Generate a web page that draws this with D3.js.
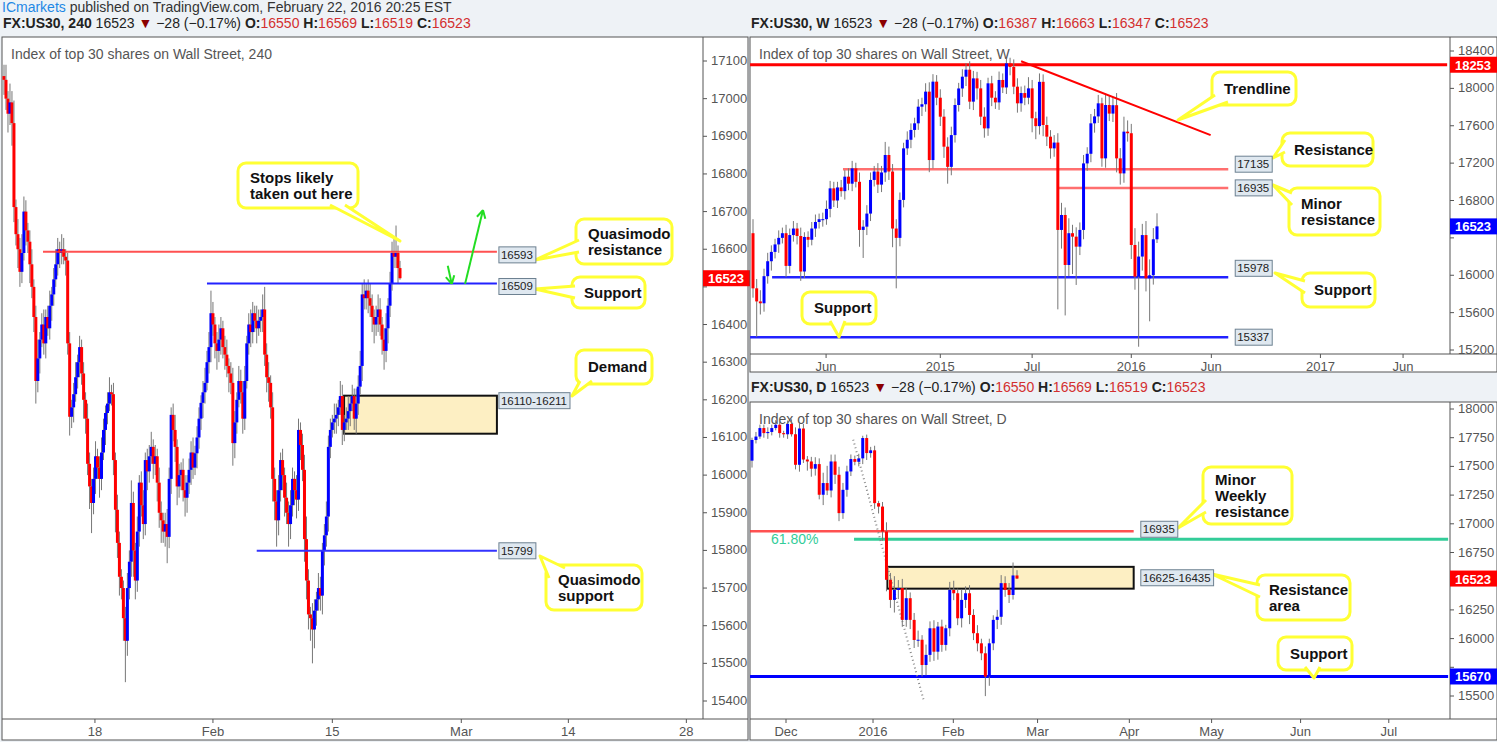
<!DOCTYPE html>
<html><head><meta charset="utf-8">
<script src="https://cdn.jsdelivr.net/npm/d3@7"></script>
<style>
body{margin:0;background:#eef2f6;}
text{font-family:"Liberation Sans Narrow","Arial Narrow",sans-serif;}
</style></head><body>
<svg id="c" width="1497" height="742"></svg>
<script>
// ---- 4h chart data ----
var h4Open0 = 17060;
var h4Close = [17050,17000,16960,16990,16935,16712,16640,16600,16540,16590,
16700,16650,16620,16560,16500,16420,16250,16310,16360,16400,
16350,16420,16390,16450,16480,16520,16560,16600,16590,16600,
16580,16570,16350,16155,16180,16215,16260,16300,16340,16270,
16200,16150,16030,15970,15926,15990,16050,16020,15990,16060,
16120,16165,16190,16220,16215,16040,15908,15820,15730,15700,
15620,15560,15700,15770,15926,15800,15720,15850,15980,15920,
15870,16040,16010,16050,16075,16030,16050,15980,15900,15880,
15850,15870,15836,15990,16160,16120,16075,15970,16000,16014,
15960,15940,15980,16014,16060,16020,16058,16100,16150,16192,
16220,16245,16300,16340,16430,16400,16350,16330,16360,16390,
16340,16320,16290,16270,16245,16085,16140,16200,16250,16220,
16150,16250,16350,16400,16380,16430,16410,16390,16410,16420,
16440,16320,16260,16245,16180,15990,15930,15880,15960,16040,
16000,15940,15900,15870,15920,15990,15960,15935,16120,16080,
16014,15830,15720,15630,15620,15590,15640,15670,15700,15680,
15800,15840,15890,16075,16120,16140,16150,16160,16180,16210,
16120,16140,16150,16170,16190,16210,16150,16190,16235,16290,
16480,16470,16490,16470,16450,16420,16400,16420,16440,16400,
16360,16330,16390,16450,16510,16590,16580,16590,16550,16523];
var h4Up = [30,40,20,50,30,60,20,40,30,50,40,30,20,30,40,20,30,50,20,30,
40,20,30,40,20,30,40,30,20,40,30,20,20,30,20,30,40,20,30,20,
30,20,40,30,20,30,40,20,30,40,30,20,30,40,20,30,20,40,30,20,
20,30,40,30,60,30,20,40,20,30,40,20,30,30,40,20,30,20,40,30,
20,30,40,30,20,30,40,20,30,20,30,40,20,30,30,40,20,30,30,20,
30,40,30,40,60,30,20,30,40,30,20,30,40,20,30,40,30,20,40,30,
30,40,20,30,40,30,20,40,30,20,40,60,30,40,20,40,30,30,40,20,
30,20,40,30,40,30,20,40,30,20,30,40,60,30,20,40,30,20,40,30,
20,30,40,30,30,20,40,30,20,40,30,20,30,40,20,30,20,40,30,40,
30,40,20,30,40,30,20,30,40,30,20,30,40,20,30,30,40,73,20,19];
var h4Dn = [40,30,50,30,60,40,30,50,40,30,20,40,30,50,30,40,60,30,40,20,
30,40,20,30,40,30,20,30,40,30,20,40,30,50,30,40,20,30,40,30,
50,40,30,60,80,30,40,30,50,30,20,40,30,20,30,40,60,40,50,30,
60,110,40,30,40,70,50,30,40,30,40,30,50,30,20,40,30,50,40,60,
30,40,70,30,40,30,40,50,30,40,30,50,40,30,40,30,20,40,30,30,
40,30,20,30,40,30,40,50,30,40,30,40,30,50,30,60,40,30,20,30,
40,30,20,30,40,30,30,40,20,30,40,30,40,50,30,60,50,70,40,30,
40,50,30,60,40,30,40,50,30,40,30,60,50,40,60,90,50,40,30,40,
50,40,30,40,30,20,30,40,30,20,40,30,20,30,40,20,30,40,30,20,
40,30,30,40,30,40,50,30,40,30,40,50,30,40,30,20,30,30,40,4];
var h4TickIdx = [45.7,105,165,229.8,283.6,342.9];
var h4TickLab = ["18","Feb","15","Mar","14","28"];
var h4Prices = d3.range(15400,17101,100);

// ---- weekly data ----
var wkOpen0 = 16450;
var wkClose = [15860,15720,15700,15990,16150,16250,16330,16400,16450,16100,
16430,16500,16420,16040,16410,16380,16500,16570,16600,16600,
16710,16930,16800,16940,16900,17055,16980,17144,17000,16485,
16520,16660,17020,17110,16970,17100,17287,17110,16500,16400,
16806,17358,17450,17555,17626,17804,17830,17965,17233,18072,
17900,17697,17376,17160,17500,17822,17999,18125,18200,17858,
18107,18000,17697,17572,18054,17900,17850,18090,18010,18268,
18230,18018,17840,17950,17900,18000,17680,17596,18070,17608,
17483,17358,17420,16485,16645,16110,16450,16413,16306,16485,
17197,17300,17626,17700,17840,17251,17822,17730,17820,17251,
17090,17537,17520,16324,15985,16200,16430,15967,16000,16385,16523];
var wkUp = [150,100,120,80,90,70,60,80,60,90,70,80,60,90,50,60,70,80,60,70,
90,80,70,60,80,70,90,80,60,100,70,90,80,60,90,70,140,90,80,100,
80,60,90,70,60,80,70,90,100,80,70,90,80,100,90,70,60,80,70,90,
80,70,90,100,60,80,70,90,70,50,60,80,90,70,80,120,90,70,90,80,
90,70,80,100,130,80,160,90,100,80,90,70,100,80,90,60,120,100,90,130,
110,160,120,100,180,160,120,150,170,120,140];
var wkDn = [100,380,120,90,80,100,70,90,60,120,80,70,90,100,70,80,60,90,70,80,
60,90,70,80,60,90,70,80,60,180,300,90,80,70,90,80,100,90,200,540,
90,80,70,90,80,70,100,80,130,90,80,100,120,180,90,80,70,90,100,80,
90,120,90,100,80,90,70,80,60,70,90,80,100,90,80,70,150,140,90,120,
100,110,90,850,200,540,120,400,410,90,100,80,90,100,70,90,100,80,90,150,
120,100,90,150,140,750,150,140,460,100,40];
var wkTickIdx = [19.9,51,76,103,124.8,154.5,177];
var wkTickLab = ["Jun","2015","Jul","2016","Jun","2017","Jun"];
var wkPrices = d3.range(15200,18401,400);
var wkTrend = [[73,18290],[124.6,17500]];

// ---- daily data ----
var dOpen0 = 17550;
var dClose = [17730,17760,17834,17790,17800,17834,17863,17790,17780,17870,
17780,17514,17830,17560,17543,17480,17520,17253,17355,17290,
17543,17427,17093,17296,17456,17564,17540,17570,17747,17616,
17640,17180,17150,16933,16512,16337,16424,16440,16163,16352,
16163,15988,15990,15770,15858,16090,15886,16105,15945,16090,
16424,16395,16177,16337,16395,16206,16047,15959,15872,15669,
15959,16163,16190,16483,16424,16380,16550,16523];
var dUp = [20,40,30,30,40,30,40,30,20,30,40,60,50,40,30,40,60,50,90,150,
60,60,70,60,50,40,30,40,20,30,30,40,20,40,80,60,120,70,80,90,
50,60,80,40,90,60,70,40,60,30,70,80,40,90,60,70,50,70,40,60,
40,40,60,70,60,60,113,46];
var dDn = [60,30,20,40,50,30,20,40,30,40,20,40,60,30,80,70,60,40,90,40,
60,80,70,50,60,40,30,40,50,60,40,50,60,80,100,70,110,80,60,60,
80,70,60,100,90,60,80,70,60,50,70,60,60,80,70,80,60,70,60,170,
80,60,80,70,60,70,40,4];
var dTickIdx = [8.6,30.6,50.9,72.2,95.4,116.2,138.7,161];
var dTickLab = ["Dec","2016","Feb","Mar","Apr","May","Jun","Jul"];
var dPrices = d3.range(15500,18001,250);
var dFib = [[25.6,17733],[43.5,15450]];

var svg = d3.select("#c");
var UP = "#0000ff", DN = "#ff0000";

function frame(x0,y0,x1,y1,axX,axY){
  svg.append("rect").attr("x",x0).attr("y",y0).attr("width",x1-x0).attr("height",y1-y0)
    .attr("fill","#fff").attr("stroke","#555").attr("stroke-width",1);
  svg.append("line").attr("x1",axX).attr("x2",axX).attr("y1",y0).attr("y2",axY).attr("stroke","#555");
  svg.append("line").attr("x1",x0).attr("x2",x1).attr("y1",axY).attr("y2",axY).attr("stroke","#555");
}

function candles(g,x,y,open0,closes,up,dn,bw){
  closes.forEach(function(c,i){
    var o = i==0 ? open0 : closes[i-1];
    var hi = Math.max(o,c)+up[i], lo = Math.min(o,c)-dn[i];
    g.append("line").attr("x1",x(i)).attr("x2",x(i)).attr("y1",y(hi)).attr("y2",y(lo))
      .attr("stroke","#777").attr("stroke-width",1);
    var col = c>=o ? UP : DN;
    g.append("rect").attr("x",x(i)-bw/2).attr("width",bw)
      .attr("y",y(Math.max(o,c))).attr("height",Math.max(1,Math.abs(y(o)-y(c))))
      .attr("fill",col);
  });
}

// tick labels that sit under an axis tag are skipped, as TradingView does
function priceAxis(y,prices,axX,tags){
  prices.forEach(function(p){
    svg.append("line").attr("x1",axX).attr("x2",axX+4).attr("y1",y(p)).attr("y2",y(p)).attr("stroke","#555");
    var hidden = tags.some(function(t){ return Math.abs(y(t)-y(p))<13; });
    if(!hidden) svg.append("text").attr("x",axX+8).attr("y",y(p)+4).attr("font-size",13).attr("fill","#555").text(p);
  });
}
function timeAxis(x,idx,labs,axY){
  idx.forEach(function(t,i){
    svg.append("line").attr("x1",x(t)).attr("x2",x(t)).attr("y1",axY).attr("y2",axY+4).attr("stroke","#555");
    svg.append("text").attr("x",x(t)).attr("y",axY+17).attr("text-anchor","middle")
      .attr("font-size",13).attr("fill","#555").text(labs[i]);
  });
}
function hline(x,y,i0,i1,p,col,w,op){
  svg.append("line").attr("x1",x(i0)).attr("x2",x(i1)).attr("y1",y(p)).attr("y2",y(p))
    .attr("stroke",col).attr("stroke-width",w).attr("opacity",op||1);
}
function tag(px,py,txt){
  var t = svg.append("text").attr("x",px+2).attr("y",py+4).attr("font-size",11.5).attr("fill","#222").text(txt);
  var w = t.node().getComputedTextLength()+5;
  svg.insert("rect","text:last-child").attr("x",px).attr("y",py-8).attr("width",w).attr("height",16)
    .attr("fill","#dfe8f0").attr("stroke","#6d8191");
}
function axisTag(axX,py,txt,col){
  svg.append("rect").attr("x",axX).attr("y",py-8).attr("width",47).attr("height",16).attr("fill",col);
  svg.append("text").attr("x",axX+23).attr("y",py+5).attr("text-anchor","middle")
    .attr("font-size",13).attr("font-weight","bold").attr("fill","#fff").text(txt);
}
function callout(x0,y0,x1,y1,bx1,bx2,tx,ty,lines){
  svg.append("rect").attr("x",x0).attr("y",y0).attr("width",x1-x0).attr("height",y1-y0)
    .attr("rx",8).attr("fill","#fff").attr("stroke","#ffff33").attr("stroke-width",3);
  svg.append("path").attr("d","M"+bx1[0]+","+bx1[1]+"L"+tx+","+ty+"L"+bx2[0]+","+bx2[1])
    .attr("fill","#fff").attr("stroke","#ffff33").attr("stroke-width",3).attr("stroke-linejoin","round");
  var g = svg.append("text").attr("font-size",15).attr("font-weight","bold").attr("fill","#111");
  lines.forEach(function(l,i){
    g.append("tspan").attr("x",x0+12).attr("y",y0+ (y1-y0)/2 - (lines.length-1)*8 + i*16 + 5).text(l);
  });
}
function header(x,y,title,vals){
  var t = svg.append("text").attr("x",x).attr("y",y).attr("font-size",14).attr("fill","#222");
  t.append("tspan").attr("font-weight","bold").text(title+" ");
  t.append("tspan").text("16523 ");
  t.append("tspan").attr("fill","#8b0000").text("▼");
  t.append("tspan").text(" −28 (−0.17%) ");
  ["O","H","L","C"].forEach(function(k,i){
    t.append("tspan").attr("font-weight","bold").attr("fill","#222").text(k+":");
    t.append("tspan").attr("fill","#d32f2f").text(vals[i]+" ");
  });
}

// top line
var pubLine = svg.append("text").attr("x",2).attr("y",12).attr("font-size",14);
pubLine.append("tspan").attr("fill","#1e88e5").text("ICmarkets");
pubLine.append("tspan").attr("fill","#333").text(" published on TradingView.com, February 22, 2016 20:25 EST");

// ===== left 4h panel =====
frame(2,37,748,740,703,719);
header(3,28,"FX:US30, 240",[16550,16569,16519,16523]);
var xh = d3.scaleLinear().domain([0,199]).range([4,400]);
var yh = d3.scaleLinear().domain([17100,15400]).range([61,701]);
svg.append("text").attr("x",11).attr("y",59).attr("font-size",14).attr("fill","#555")
  .text("Index of top 30 shares on Wall Street, 240");
svg.append("rect").attr("x",xh(170.9)).attr("y",yh(16211)).attr("width",xh(247.7)-xh(170.9))
  .attr("height",yh(16110)-yh(16211)).attr("fill","#fdefc3").attr("stroke","#111").attr("stroke-width",2);
candles(svg.append("g"),xh,yh,h4Open0,h4Close,h4Up,h4Dn,3);
hline(xh,yh,19.6,247.7,16593,"#ff3333",2,0.85);
hline(xh,yh,102,247.7,16509,"#2222ff",2);
hline(xh,yh,127,247.7,15799,"#3333ff",2);
priceAxis(yh,h4Prices,703,[16523]);
timeAxis(xh,h4TickIdx,h4TickLab,719);
axisTag(703,yh(16523),"16523","#ff0000");
// green arrows
function arrow(a,b){
  svg.append("line").attr("x1",xh(a[0])).attr("y1",yh(a[1])).attr("x2",xh(b[0])).attr("y2",yh(b[1]))
    .attr("stroke","#22dd22").attr("stroke-width",2);
  var ang = Math.atan2(yh(b[1])-yh(a[1]),xh(b[0])-xh(a[0]));
  [-0.5,0.5].forEach(function(d){
    svg.append("line").attr("x1",xh(b[0])).attr("y1",yh(b[1]))
      .attr("x2",xh(b[0])-9*Math.cos(ang+d)).attr("y2",yh(b[1])-9*Math.sin(ang+d))
      .attr("stroke","#22dd22").attr("stroke-width",2);
  });
}
arrow([231.7,16508],[240.7,16704]);
arrow([223,16556],[225,16508]);
callout(238,163,358,208,[330,205],[345,205],400,241,["Stops likely","taken out here"]);
callout(576,219,672,264,[579,240],[579,252],535,260,["Quasimodo","resistance"]);
callout(572,277,645,308,[575,286],[575,298],535,289,["Support"]);
callout(576,350,652,384,[580,381],[592,381],572,396,["Demand"]);
callout(546,565,642,610,[549,578],[565,568],540,556,["Quasimodo","support"]);
tag(xh(248.7),yh(16593)+3,"16593");
tag(xh(248.7),yh(16509)+3,"16509");
tag(xh(248.7),yh(16211)+5,"16110-16211");
tag(xh(248.7),yh(15799),"15799");

// ===== weekly panel =====
frame(750,37,1497,372,1450,354);
header(751,28,"FX:US30, W",[16387,16663,16347,16523]);
var xw = d3.scaleLinear().domain([0,110]).range([753,1157]);
var yw = d3.scaleLinear().domain([18400,15200]).range([51,350]);
svg.append("text").attr("x",759).attr("y",59).attr("font-size",14).attr("fill","#555")
  .text("Index of top 30 shares on Wall Street, W");
hline(xw,yw,-0.8,189,18253,"#ff0000",3);
hline(xw,yw,24.5,129.4,17135,"#ff3333",2.5,0.7);
hline(xw,yw,83.2,129.4,16935,"#ff3333",2.5,0.7);
hline(xw,yw,5.2,129.4,15978,"#2222ff",2.5);
hline(xw,yw,-0.8,129.4,15337,"#2222ff",2.5);
candles(svg.append("g"),xw,yw,wkOpen0,wkClose,wkUp,wkDn,3);
svg.append("line").attr("x1",xw(wkTrend[0][0])).attr("y1",yw(wkTrend[0][1]))
  .attr("x2",xw(wkTrend[1][0])).attr("y2",yw(wkTrend[1][1])).attr("stroke","#ff0000").attr("stroke-width",2);
priceAxis(yw,wkPrices,1450,[18253,16523]);
timeAxis(xw,wkTickIdx,wkTickLab,354);
axisTag(1450,yw(18253),"18253","#ff0000");
axisTag(1450,yw(16523),"16523","#0000ff");
callout(1212,72,1296,105,[1215,95],[1228,102],1178,120,["Trendline"]);
callout(1282,133,1373,166,[1285,140],[1285,152],1273,158,["Resistance"]);
callout(1289,188,1380,235,[1292,193],[1292,205],1273,185,["Minor","resistance"]);
callout(1302,273,1375,307,[1305,281],[1305,293],1275,273,["Support"]);
callout(802,292,876,324,[830,321],[845,321],839,337,["Support"]);
tag(xw(131.3),yw(17135)-5,"17135");
tag(xw(131.3),yw(16935),"16935");
tag(xw(131.3),yw(15978)-9,"15978");
tag(xw(131.3),yw(15337),"15337");

// ===== daily panel =====
frame(750,402,1497,740,1450,719);
header(751,392,"FX:US30, D",[16550,16569,16519,16523]);
var xd = d3.scaleLinear().domain([0,67]).range([752,1017]);
var yd = d3.scaleLinear().domain([18000,15500]).range([409,696]);
svg.append("text").attr("x",759).attr("y",424).attr("font-size",14).attr("fill","#555")
  .text("Index of top 30 shares on Wall Street, D");
svg.append("rect").attr("x",xd(34.2)).attr("y",yd(16625)).attr("width",xd(96.5)-xd(34.2))
  .attr("height",yd(16435)-yd(16625)).attr("fill","#fdefc3").attr("stroke","#111").attr("stroke-width",2);
hline(xd,yd,-0.5,96.5,16935,"#ff3333",2.5,0.85);
hline(xd,yd,25.8,176,16866,"#33cc99",3);
svg.append("text").attr("x",771).attr("y",yd(16866)+5).attr("font-size",14).attr("fill","#33cc99").text("61.80%");
hline(xd,yd,-0.5,176,15670,"#0000ff",3);
svg.append("line").attr("x1",xd(dFib[0][0])).attr("y1",yd(dFib[0][1]))
  .attr("x2",xd(dFib[1][0])).attr("y2",yd(dFib[1][1])).attr("stroke","#888")
  .attr("stroke-width",2).attr("stroke-dasharray","1,3");
candles(svg.append("g"),xd,yd,dOpen0,dClose,dUp,dDn,3);
priceAxis(yd,dPrices,1450,[16523,15670]);
timeAxis(xd,dTickIdx,dTickLab,719);
axisTag(1450,yd(16523),"16523","#ff0000");
axisTag(1450,yd(15670),"15670","#0000ff");
callout(1203,467,1292,524,[1206,500],[1206,512],1178,528,["Minor","Weekly","resistance"]);
callout(1257,575,1350,620,[1260,585],[1260,597],1212,574,["Resistance","area"]);
callout(1278,637,1352,670,[1305,667],[1320,667],1314,678,["Support"]);
tag(xd(98.3),yd(16935)-2,"16935");
tag(xd(98.3),yd(16530),"16625-16435");
</script></body></html>
